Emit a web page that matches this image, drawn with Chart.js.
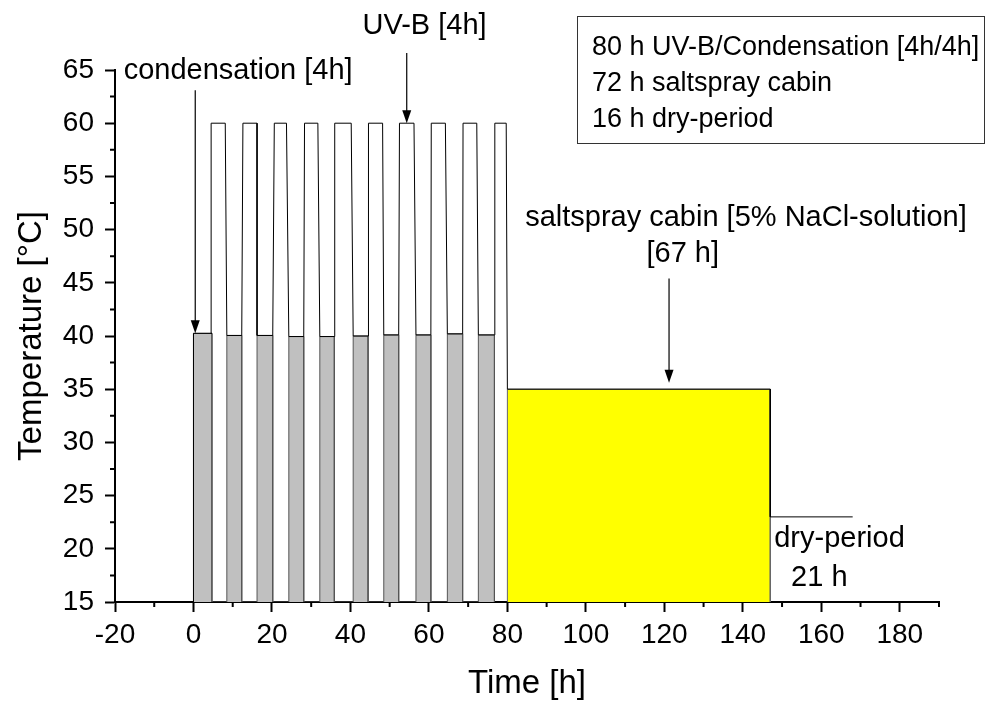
<!DOCTYPE html>
<html>
<head>
<meta charset="utf-8">
<title>Test cycle</title>
<script src="https://cdn.jsdelivr.net/npm/chart.js@4.4.1/dist/chart.umd.min.js"></script>
<style>
  html, body { margin: 0; padding: 0; background: #fff; }
  #wrap { width: 986px; height: 702px; }
</style>
</head>
<body>
<div id="wrap"><canvas id="myChart" width="986" height="702"></canvas></div>
<script>
// condensation phases [h] and temperature [°C]
const condStart = [0, 8.5, 16.2, 24.3, 32.2, 40.7, 48.5, 56.7, 64.7, 72.6];
const condEnd   = [4.7, 12.3, 20.2, 28.1, 35.9, 44.5, 52.3, 60.5, 68.6, 76.7];
const condTemp  = [40.25, 40.05, 40.05, 39.95, 39.95, 40.0, 40.1, 40.1, 40.2, 40.1];

// UV-B phases
const uvStart = [4.5, 12.6, 20.6, 28.3, 36.0, 44.6, 52.5, 60.6, 68.7, 76.8];
const uvEnd   = [8.1, 16.2, 23.7, 31.7, 40.2, 48.2, 56.2, 64.2, 72.2, 79.7];
const uvTemp  = [60, 60, 60, 60, 60, 60, 60, 60, 60, 60];

// saltspray cabin and dry period
const saltStart = 80, saltEnd = 147, saltTemp = 35;
const dryStart = 147, dryEnd = 168, dryTemp = 23;

const xTicks = [-20, 0, 20, 40, 60, 80, 100, 120, 140, 160, 180];
const xMinor = [-10, 10, 30, 50, 70, 90, 110, 130, 150, 170, 190];
const yTicks = [15, 20, 25, 30, 35, 40, 45, 50, 55, 60, 65];
const yMinor = [17.5, 22.5, 27.5, 32.5, 37.5, 42.5, 47.5, 52.5, 57.5, 62.5];

const FONT = '"Liberation Sans", Arial, sans-serif';
const BASE = yTicks[0];

// temperature trace
function buildTrace(){
    const pts = [{x: condStart[0], y: BASE}];
    for (let i = 0; i < condStart.length; i++) {
        pts.push({x: condStart[i], y: condTemp[i]});
        pts.push({x: condEnd[i], y: condTemp[i]});
        pts.push({x: uvStart[i], y: uvTemp[i]});
        pts.push({x: uvEnd[i], y: uvTemp[i]});
    }
    pts.push({x: saltStart, y: saltTemp});
    pts.push({x: saltEnd, y: saltTemp});
    pts.push({x: dryStart, y: dryTemp});
    pts.push({x: dryEnd, y: dryTemp});
    return pts;
}

// grey columns for the condensation phases
function buildColumns(){
    const pts = [];
    for (let i = 0; i < condStart.length; i++) {
        pts.push({x: condStart[i], y: BASE});
        pts.push({x: condStart[i], y: condTemp[i]});
        pts.push({x: condEnd[i], y: condTemp[i]});
        pts.push({x: condEnd[i], y: BASE});
    }
    return pts;
}

function buildSalt(){
    return [
        {x: saltStart, y: BASE},
        {x: saltStart, y: saltTemp},
        {x: saltEnd, y: saltTemp},
        {x: saltEnd, y: BASE}
    ];
}

function arrow(ctx, x, y1, y2){
    ctx.beginPath();
    ctx.moveTo(x, y1);
    ctx.lineTo(x, y2 - 10);
    ctx.stroke();
    ctx.beginPath();
    ctx.moveTo(x - 4.5, y2 - 13);
    ctx.lineTo(x + 4.5, y2 - 13);
    ctx.lineTo(x, y2);
    ctx.closePath();
    ctx.fill();
}

// minor ticks, labels, arrows and the info box
const notes = {
    id: 'notes',
    afterDraw(chart){
        const ctx = chart.ctx;
        const xs = chart.scales.x, ys = chart.scales.y;
        const px = v => xs.getPixelForValue(v);
        const py = v => ys.getPixelForValue(v);
        ctx.save();
        ctx.strokeStyle = '#000';
        ctx.fillStyle = '#000';
        ctx.lineWidth = 2;
        ctx.beginPath();
        xMinor.forEach(v => { ctx.moveTo(px(v), ys.bottom); ctx.lineTo(px(v), ys.bottom + 5); });
        yMinor.forEach(v => { ctx.moveTo(xs.left, py(v)); ctx.lineTo(xs.left - 5, py(v)); });
        ctx.stroke();

        ctx.lineWidth = 1.2;
        arrow(ctx, px(0.45), py(63.1), py(condTemp[0]));
        arrow(ctx, px((uvStart[6] + uvEnd[6]) / 2), py(66.6), py(uvTemp[6]));
        arrow(ctx, px(121.2), py(45.4), py(saltTemp + 0.6));

        ctx.font = '29px ' + FONT;
        ctx.textBaseline = 'alphabetic';
        ctx.textAlign = 'left';
        ctx.fillText('condensation [4h]', px(-17.8), py(64.2));
        ctx.fillText('dry-period', px(148), py(20.2));
        ctx.fillText('21 h', px(152.3), py(16.5));
        ctx.textAlign = 'center';
        ctx.fillText('UV-B [4h]', px(58.9), py(68.4));
        ctx.fillText('saltspray cabin [5% NaCl-solution]', px(140.8), py(50.3));
        ctx.fillText('[67 h]', px(124.7), py(47.0));

        // info box
        ctx.lineWidth = 1;
        ctx.strokeStyle = '#333';
        ctx.strokeRect(577.5, 16.5, 407, 127);
        ctx.textAlign = 'left';
        ctx.font = '27px ' + FONT;
        ctx.fillText('80 h UV-B/Condensation [4h/4h]', 592, 55);
        ctx.fillText('72 h saltspray cabin', 592, 91);
        ctx.fillText('16 h dry-period', 592, 127);
        ctx.restore();
    }
};

function chart(){
    const ctx = document.getElementById('myChart');
    new Chart(ctx, {
        type: 'line',
        data: {
            datasets: [{
                label: 'Temperature',
                data: buildTrace(),
                borderColor: '#000',
                borderWidth: 1,
                pointRadius: 0,
                tension: 0,
                fill: false,
                order: 0
            }, {
                label: 'Condensation',
                data: buildColumns(),
                borderColor: '#555',
                borderWidth: 1,
                backgroundColor: '#c0c0c0',
                pointRadius: 0,
                tension: 0,
                fill: 'start',
                order: 1
            }, {
                label: 'Saltspray cabin',
                data: buildSalt(),
                borderColor: '#666',
                borderWidth: 1,
                backgroundColor: '#ffff00',
                pointRadius: 0,
                tension: 0,
                fill: 'start',
                order: 2
            }]
        },
        options: {
            responsive: false,
            animation: false,
            events: [],
            layout: { padding: { top: 70, right: 47, left: 0, bottom: 0 } },
            plugins: { legend: { display: false }, tooltip: { enabled: false } },
            scales: {
                x: {
                    type: 'linear',
                    min: -20,
                    max: 190,
                    afterFit: s => { s.height = 100; },
                    afterBuildTicks: s => { s.ticks = xTicks.map(v => ({value: v})); },
                    border: { display: true, color: '#000', width: 2 },
                    grid: { drawOnChartArea: false, drawTicks: true, tickLength: 10, tickColor: '#000', tickWidth: 2 },
                    ticks: { color: '#000', font: { family: FONT, size: 28 }, padding: 6, maxRotation: 0 },
                    title: { display: true, text: 'Time [h]', color: '#000', font: { family: FONT, size: 33 }, padding: { top: 0, bottom: -2 } }
                },
                y: {
                    type: 'linear',
                    min: 15,
                    max: 65,
                    afterFit: s => { s.width = 115; },
                    afterBuildTicks: s => { s.ticks = yTicks.map(v => ({value: v})); },
                    border: { display: true, color: '#000', width: 2 },
                    grid: { drawOnChartArea: false, drawTicks: true, tickLength: 10, tickColor: '#000', tickWidth: 2 },
                    ticks: { color: '#000', font: { family: FONT, size: 28 }, padding: 11 },
                    title: { display: true, text: 'Temperature [°C]', color: '#000', font: { family: FONT, size: 33 }, padding: { top: 12, bottom: 0 } }
                }
            }
        },
        plugins: [notes]
    });
}

chart();
</script>
</body>
</html>
